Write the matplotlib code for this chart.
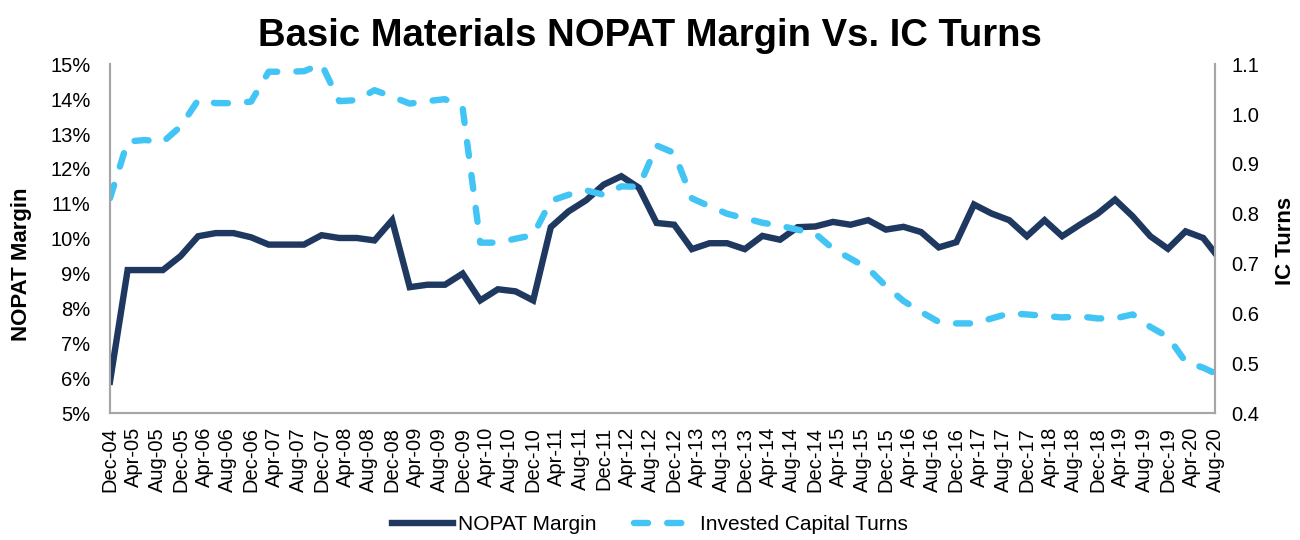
import pandas as pd
import matplotlib.pyplot as plt
from matplotlib.lines import Line2D

plt.rcParams['font.family'] = ['Liberation Sans', 'DejaVu Sans']

# quarterly observation dates (plus first/last partial periods)
dates = (['Dec-04'] +
         [f'{m}-{y:02d}' for y in range(5, 21) for m in ['Mar', 'Jun', 'Sep', 'Dec']][:62] +
         ['Aug-20'])

nopat_margin = [5.9, 9.1, 9.1, 9.1, 9.5, 10.07, 10.16, 10.16, 10.04, 9.83,
                9.83, 9.83, 10.1, 10.02, 10.02, 9.95, 10.53, 8.61, 8.68, 8.68,
                9.0, 8.23, 8.55, 8.49, 8.23, 10.33, 10.78, 11.1, 11.55, 11.79,
                11.46, 10.45, 10.4, 9.7, 9.87, 9.87, 9.7, 10.08, 9.97, 10.33,
                10.35, 10.48, 10.4, 10.53, 10.26, 10.34, 10.19, 9.75, 9.9, 10.98,
                10.72, 10.53, 10.07, 10.53, 10.07, 10.4, 10.71, 11.12, 10.64, 10.07,
                9.71, 10.21, 10.02, 9.59]

ic_turns = [0.831, 0.945, 0.948, 0.944, 0.975, 1.028, 1.022, 1.022, 1.025, 1.085,
            1.085, 1.086, 1.100, 1.026, 1.028, 1.048, 1.035, 1.021, 1.026, 1.030,
            1.012, 0.742, 0.742, 0.750, 0.757, 0.826, 0.838, 0.847, 0.838, 0.855,
            0.854, 0.937, 0.922, 0.831, 0.815, 0.800, 0.791, 0.782, 0.776, 0.768,
            0.760, 0.730, 0.710, 0.690, 0.655, 0.625, 0.603, 0.583, 0.580, 0.580,
            0.590, 0.600, 0.598, 0.595, 0.592, 0.594, 0.590, 0.590, 0.598, 0.573,
            0.553, 0.503, 0.491, 0.480]

d = pd.to_datetime(dates, format='%b-%y')
x = (d.year - 2004) * 12 + d.month - 12

tick_dates = pd.date_range('2004-12-01', '2020-08-01', freq='4MS')
tick_pos = (tick_dates.year - 2004) * 12 + tick_dates.month - 12
tick_labels = tick_dates.strftime('%b-%y')

navy = '#1F3860'
sky = '#42C5F4'
grey = '#A6A6A6'

fig = plt.figure(figsize=(13, 5.4), dpi=100)
ax = fig.add_axes([0.0846, 0.235, 0.85, 0.646])
ax2 = ax.twinx()

ax.plot(x, nopat_margin, color=navy, lw=4.6, solid_joinstyle='miter', zorder=3)
ax2.plot(x, ic_turns, color=sky, lw=4.6, dashes=(2.2, 3.0),
         dash_capstyle='round', zorder=2)

ax.set_xlim(0, 188)
ax.set_ylim(5, 15)
ax2.set_ylim(0.4, 1.1)
ax.set_yticks(range(5, 16))
ax.set_yticklabels([f'{v}%' for v in range(5, 16)])
ax2.set_yticks([0.4, 0.5, 0.6, 0.7, 0.8, 0.9, 1.0, 1.1])
ax2.set_yticklabels([f'{v:.1f}' for v in [0.4, 0.5, 0.6, 0.7, 0.8, 0.9, 1.0, 1.1]])
ax.set_xticks(tick_pos)
ax.set_xticklabels(tick_labels, rotation=90)

for a in (ax, ax2):
    a.tick_params(length=0, labelsize=14.5, colors='black')
    for s in a.spines.values():
        s.set_color(grey)
        s.set_linewidth(1.5)
    a.spines['top'].set_visible(False)
ax.tick_params(axis='y', pad=14)
ax2.tick_params(axis='y', pad=12)
ax.tick_params(axis='x', pad=10)

ax.set_ylabel('NOPAT Margin', fontsize=16, fontweight='bold')
ax.yaxis.set_label_coords(-0.071, 0.427)
ax2.set_ylabel('IC Turns', fontsize=16, fontweight='bold')
ax2.yaxis.set_label_coords(1.054, 0.493)

fig.suptitle('Basic Materials NOPAT Margin Vs. IC Turns', fontsize=27.5,
             fontweight='bold', y=0.967)

handles = [Line2D([], [], color=navy, lw=4.6),
           Line2D([], [], color=sky, lw=4.6, dashes=(2.2, 3.0), dash_capstyle='round')]
fig.legend(handles, ['NOPAT Margin', 'Invested Capital Turns'], loc='center',
           bbox_to_anchor=(0.5, 0.028), ncol=2, frameon=False, fontsize=15,
           handlelength=2.9, handletextpad=0.25, columnspacing=1.8)

fig.savefig('out.png', dpi=100)
